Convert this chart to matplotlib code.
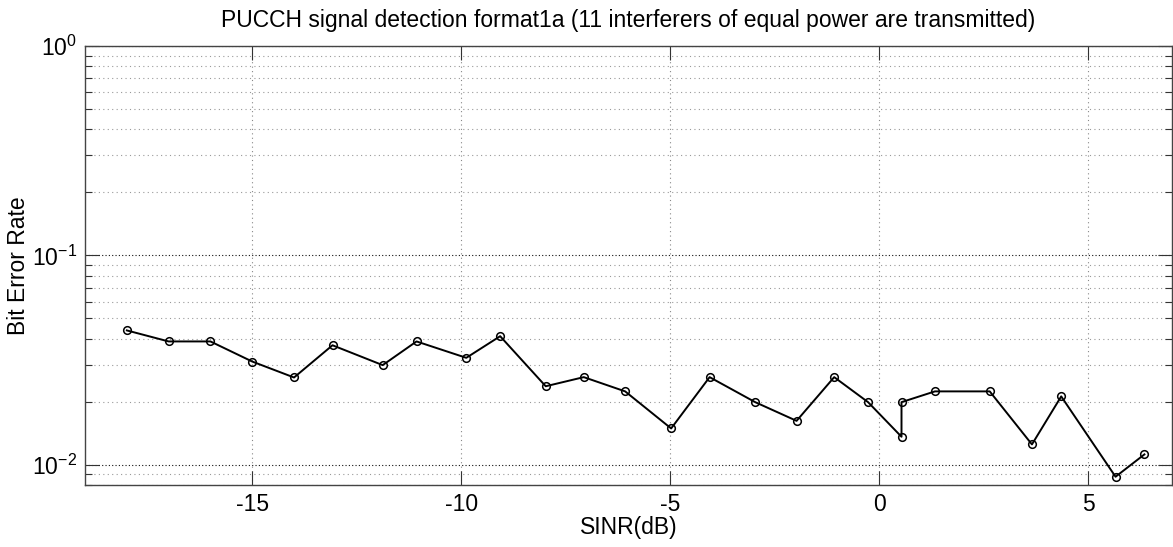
import matplotlib
matplotlib.use("Agg")
import matplotlib.pyplot as plt
from matplotlib.ticker import LogLocator, NullFormatter, MultipleLocator

plt.rcParams['font.family'] = ['Liberation Sans', 'DejaVu Sans']
plt.rcParams['mathtext.fontset'] = 'custom'
plt.rcParams['mathtext.rm'] = 'Liberation Sans'
plt.rcParams['mathtext.it'] = 'Liberation Sans'
plt.rcParams['axes.unicode_minus'] = False

# SINR (dB) and measured bit error rate
sinr_db = [-18, -17, -16, -15, -14, -13.08, -11.88, -11.07, -9.88, -9.07,
           -7.98, -7.07, -6.08, -4.98, -4.06, -2.97, -1.98, -1.08, -0.27,
           0.53, 0.53, 1.33, 2.64, 3.65, 4.35, 5.65, 6.34]
ber = [0.0438, 0.0388, 0.0388, 0.0311, 0.0261, 0.0372, 0.0299, 0.0388,
       0.0324, 0.0411, 0.0237, 0.0262, 0.0224, 0.0149, 0.0262, 0.0199,
       0.0162, 0.0262, 0.0199, 0.0136, 0.0199, 0.0224, 0.0224, 0.0125,
       0.0212, 0.00876, 0.0112]

fig = plt.figure(figsize=(11.73, 5.47), dpi=100)
ax = fig.add_axes([85 / 1173, 62 / 547, 1087 / 1173, 439 / 547])

ax.semilogy(sinr_db, ber, color='black', linewidth=1.4, marker='o',
            markersize=5.5, markerfacecolor='none', markeredgewidth=1.1)

ax.set_xlim(-19, 7)
ax.set_ylim(0.008, 1)
ax.xaxis.set_major_locator(MultipleLocator(5))
ax.yaxis.set_major_locator(LogLocator(base=10, numticks=10))
ax.yaxis.set_minor_locator(LogLocator(base=10, subs=range(2, 10), numticks=20))
ax.yaxis.set_minor_formatter(NullFormatter())

# MATLAB style grid
ax.grid(True, which='major', axis='y', color='#111111', linestyle=(0, (1, 2)), linewidth=0.8)
ax.grid(True, which='minor', axis='y', color='#999999', linestyle=(0, (1, 3)), linewidth=0.8)
ax.grid(True, which='major', axis='x', color='#888888', linestyle=(0, (1, 3)), linewidth=0.8)

ax.tick_params(which='both', direction='in', top=True, right=True,
               labelsize=16.5, width=0.8, color='#333333')
ax.tick_params(which='major', length=10, pad=6)
ax.tick_params(which='minor', length=5)
for s in ax.spines.values():
    s.set_color('#444444')
    s.set_linewidth(1.0)

ax.set_title('PUCCH signal detection format1a (11 interferers of equal power are transmitted)',
             fontsize=16.5, pad=14)
ax.set_xlabel('SINR(dB)', fontsize=16.5, labelpad=0)
ax.set_ylabel('Bit Error Rate', fontsize=16.5)
ax.yaxis.set_label_coords(-0.051, 0.5)

fig.savefig('out.png', dpi=100)
